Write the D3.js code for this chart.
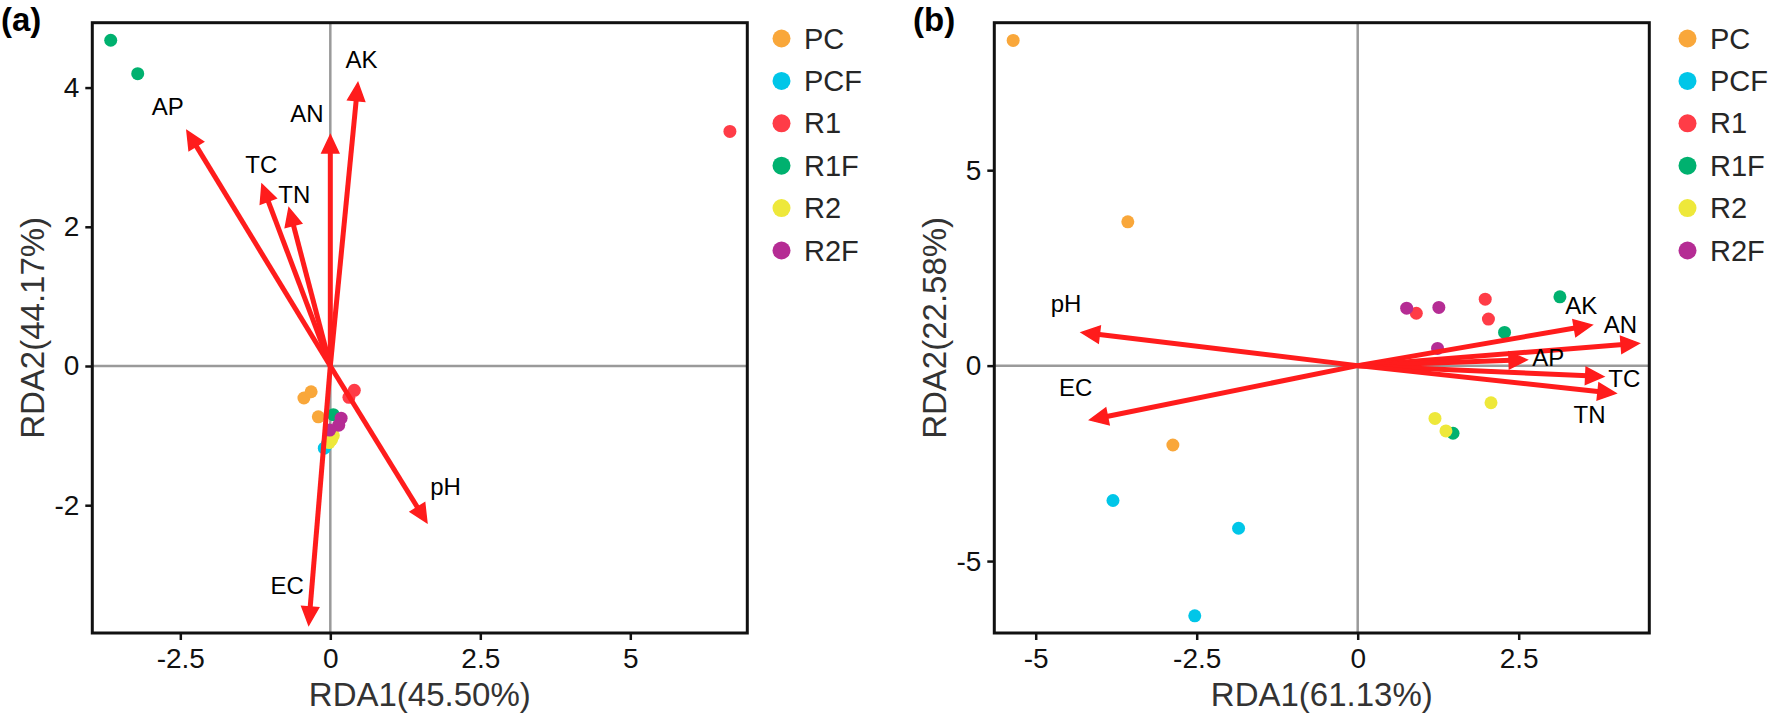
<!DOCTYPE html>
<html>
<head>
<meta charset="utf-8">
<script src="https://cdn.jsdelivr.net/npm/d3@7"></script>
<style>
  html, body { margin: 0; padding: 0; background: #fff; }
  svg { display: block; }
  text { font-family: "Liberation Sans", Arial, sans-serif; }
</style>
</head>
<body>
<svg id="chart" width="1770" height="717"></svg>
<script>
// ---------------- DATA ----------------
const groups = ["PC", "PCF", "R1", "R1F", "R2", "R2F"];
const groupColors = ["#F9A73A", "#00C6E8", "#FF3C47", "#00B16F", "#EEE83A", "#B52C94"];

// Panel (a) samples
const aGroup = ["PC","PC","PC","PCF","PCF","PCF","R1","R1","R1","R1F","R1F","R1F","R2","R2","R2","R2F","R2F","R2F"];
const aX = [-0.44, -0.32, -0.20, -0.10, -0.05, 0.00, 6.66, 0.40, 0.31, -3.66, -3.21, 0.05, 0.02, 0.05, -0.02, 0.18, 0.14, -0.01];
const aY = [-0.46, -0.37, -0.73, -1.18, -1.12, -1.00, 3.37, -0.35, -0.45, 4.68, 4.20, -0.70, -1.06, -1.00, -1.10, -0.75, -0.85, -0.92];

// Panel (a) environmental vectors
const aVar = ["AK", "AN", "AP", "TC", "TN", "pH", "EC"];
const aVx = [0.46, 0.00, -2.39, -1.14, -0.69, 1.61, -0.36];
const aVy = [4.07, 3.32, 3.38, 2.61, 2.27, -2.25, -3.72];
const aLx = [0.52, -0.39, -2.71, -1.15, -0.60, 1.92, -0.72];
const aLy = [4.40, 3.63, 3.73, 2.90, 2.47, -1.73, -3.16];

// Panel (b) samples
const bGroup = ["PC","PC","PC","PCF","PCF","PCF","R1","R1","R1","R1F","R1F","R1F","R2","R2","R2","R2F","R2F","R2F"];
const bX = [-5.35, -3.57, -2.87, -3.80, -1.85, -2.53, 1.98, 2.03, 0.91, 3.14, 2.28, 1.48, 2.07, 1.20, 1.37, 0.76, 1.26, 1.24];
const bY = [8.32, 3.68, -2.03, -3.45, -4.16, -6.40, 1.70, 1.19, 1.34, 1.76, 0.85, -1.73, -0.95, -1.35, -1.67, 1.47, 1.49, 0.44];

// Panel (b) environmental vectors
const bVar = ["AK", "AN", "AP", "TC", "TN", "pH", "EC"];
const bVx = [3.64, 4.37, 2.63, 3.82, 4.01, -4.29, -4.16];
const bVy = [1.04, 0.57, 0.15, -0.28, -0.71, 0.85, -1.39];
const bLx = [3.47, 4.08, 2.96, 4.14, 3.60, -4.53, -4.38];
const bLy = [1.55, 1.04, 0.20, -0.32, -1.26, 1.59, -0.55];

// Axis ticks
const aXTicks = [-2.5, 0, 2.5, 5];
const aYTicks = [-2, 0, 2, 4];
const bXTicks = [-5, -2.5, 0, 2.5];
const bYTicks = [-5, 0, 5];

// Axis titles
const aXTitle = "RDA1(45.50%)", aYTitle = "RDA2(44.17%)";
const bXTitle = "RDA1(61.13%)", bYTitle = "RDA2(22.58%)";

// ---------------- DRAW ----------------
const svg = d3.select("#chart");
const color = d3.scaleOrdinal().domain(groups).range(groupColors);
const ARROW = "#FF1C1C";

function fmt(v) { return v < 0 ? "-" + Math.abs(v) : String(v); }

function panel(cfg) {
  const x = d3.scaleLinear().domain(cfg.xDom).range([cfg.left, cfg.right]);
  const y = d3.scaleLinear().domain(cfg.yDom).range([cfg.bottom, cfg.top]);
  const g = svg.append("g");

  // zero lines
  g.append("line").attr("x1", x(0)).attr("x2", x(0)).attr("y1", cfg.top).attr("y2", cfg.bottom)
    .attr("stroke", "#9a9a9a").attr("stroke-width", 2.5);
  g.append("line").attr("x1", cfg.left).attr("x2", cfg.right).attr("y1", y(0)).attr("y2", y(0))
    .attr("stroke", "#9a9a9a").attr("stroke-width", 2.5);

  // axes
  const xAxis = d3.axisBottom(x).tickValues(cfg.xTicks).tickFormat(fmt).tickSize(7).tickPadding(8);
  const yAxis = d3.axisLeft(y).tickValues(cfg.yTicks).tickFormat(fmt).tickSize(7).tickPadding(6);
  const gx = g.append("g").attr("transform", `translate(0,${cfg.bottom})`).call(xAxis);
  const gy = g.append("g").attr("transform", `translate(${cfg.left},0)`).call(yAxis);
  [gx, gy].forEach(a => {
    a.select(".domain").remove();
    a.selectAll(".tick line").attr("stroke", "#111").attr("stroke-width", 2.5);
    a.selectAll(".tick text").attr("fill", "#111").style("font-size", "28px")
      .style("font-family", '"Liberation Sans", Arial, sans-serif');
  });

  // points
  g.append("g").selectAll("circle").data(cfg.px.map((v, i) => i)).join("circle")
    .attr("cx", i => x(cfg.px[i])).attr("cy", i => y(cfg.py[i])).attr("r", 6.5)
    .attr("fill", i => color(cfg.pg[i]));

  // arrows
  const ag = g.append("g");
  cfg.vx.forEach((vx, i) => {
    const x0 = x(0), y0 = y(0), x1 = x(vx), y1 = y(cfg.vy[i]);
    const dx = x1 - x0, dy = y1 - y0, L = Math.hypot(dx, dy);
    const ux = dx / L, uy = dy / L;
    const hl = 18, hw = 8.5;
    const bx = x1 - ux * hl, by = y1 - uy * hl;
    ag.append("line").attr("x1", x0).attr("y1", y0).attr("x2", bx + ux * 2).attr("y2", by + uy * 2)
      .attr("stroke", ARROW).attr("stroke-width", 5);
    ag.append("path")
      .attr("d", `M${x1},${y1}L${bx - uy * hw},${by + ux * hw}L${bx + uy * hw},${by - ux * hw}Z`)
      .attr("fill", ARROW).attr("stroke", ARROW).attr("stroke-width", 1.5).attr("stroke-linejoin", "miter");
    ag.append("text").attr("x", x(cfg.lx[i])).attr("y", y(cfg.ly[i]))
      .attr("text-anchor", "middle").attr("dominant-baseline", "central")
      .style("font-size", "24px").attr("fill", "#000").text(cfg.vars[i]);
  });

  // frame
  g.append("rect").attr("x", cfg.left).attr("y", cfg.top)
    .attr("width", cfg.right - cfg.left).attr("height", cfg.bottom - cfg.top)
    .attr("fill", "none").attr("stroke", "#111").attr("stroke-width", 3);

  // titles
  g.append("text").attr("x", (cfg.left + cfg.right) / 2).attr("y", 706)
    .attr("text-anchor", "middle").style("font-size", "33px").attr("fill", "#333").text(cfg.xTitle);
  g.append("text").attr("transform", `translate(${cfg.yTitleX},${(cfg.top + cfg.bottom) / 2}) rotate(-90)`)
    .attr("text-anchor", "middle").style("font-size", "33px").attr("fill", "#333").text(cfg.yTitle);

  // panel tag
  g.append("text").attr("x", cfg.tagX).attr("y", 31).style("font-size", "33px")
    .style("font-weight", "bold").attr("fill", "#000").text(cfg.tag);

  // legend
  const lg = g.append("g");
  groups.forEach((gname, i) => {
    const ly = 38.5 + i * 42.4;
    lg.append("circle").attr("cx", cfg.legendX).attr("cy", ly).attr("r", 9).attr("fill", color(gname));
    lg.append("text").attr("x", cfg.legendX + 22.5).attr("y", ly).attr("dominant-baseline", "central")
      .style("font-size", "29px").attr("fill", "#262626").text(gname);
  });
}

panel({
  left: 92.3, right: 747.3, top: 22.7, bottom: 633,
  xDom: [-3.967, 6.95], yDom: [-3.836, 4.932],
  xTicks: aXTicks, yTicks: aYTicks,
  px: aX, py: aY, pg: aGroup,
  vx: aVx, vy: aVy, lx: aLx, ly: aLy, vars: aVar,
  xTitle: aXTitle, yTitle: aYTitle, yTitleX: 44,
  tag: "(a)", tagX: 1, legendX: 781.5
});

panel({
  left: 994.3, right: 1649.3, top: 22.7, bottom: 633,
  xDom: [-5.643, 4.528], yDom: [-6.84, 8.773],
  xTicks: bXTicks, yTicks: bYTicks,
  px: bX, py: bY, pg: bGroup,
  vx: bVx, vy: bVy, lx: bLx, ly: bLy, vars: bVar,
  xTitle: bXTitle, yTitle: bYTitle, yTitleX: 946,
  tag: "(b)", tagX: 913, legendX: 1687.5
});
</script>
</body>
</html>
